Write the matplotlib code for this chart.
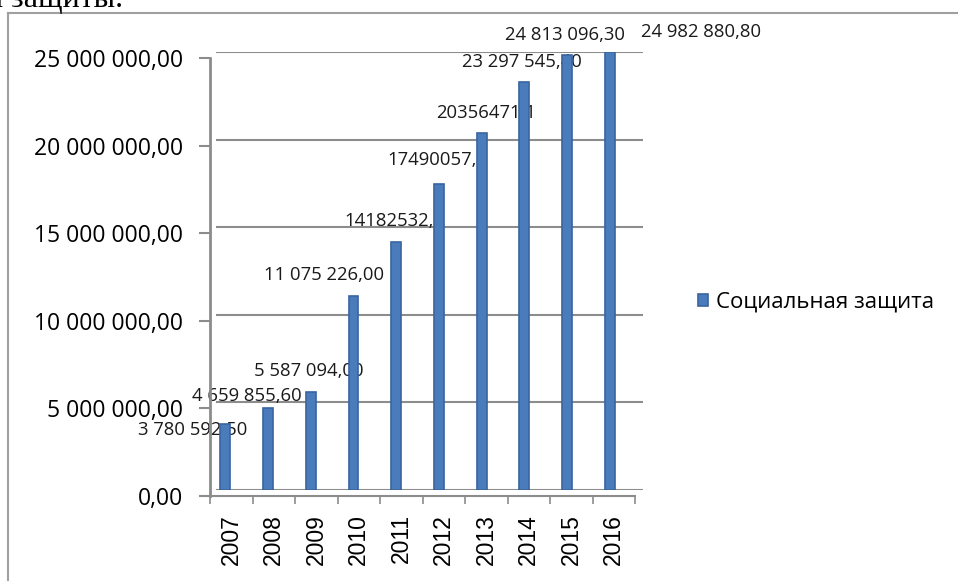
import numpy as np
import matplotlib
matplotlib.use('Agg')
import matplotlib.pyplot as plt

years = ['2007', '2008', '2009', '2010', '2011', '2012', '2013', '2014', '2015', '2016']
values = [3780592.50, 4659855.60, 5587094.00, 11075226.00, 14182532.20,
          17490057.40, 20356471.10, 23297545.40, 24813096.30, 24982880.80]
value_labels = ['3 780 592,50', '4 659 855,60', '5 587 094,00', '11 075 226,00', '14182532,2',
                '17490057,4', '20356471,1', '23 297 545,40', '24 813 096,30', '24 982 880,80']
series_name = 'Социальная защита'
y_ticks = [0, 5000000, 10000000, 15000000, 20000000, 25000000]

# where each label sits against its bar, px (left edge, centre height)
label_dx = [-87, -76, -57, -89, -52, -52, -45, -62, -62, 31]
label_dy = [6, -12, -21, -21, -21, -24, -20, -20, -20, -20]

W, H = 958, 581
fig = plt.figure(figsize=(W / 100, H / 100), dpi=100)

def box(l, t, r, b):
    return [l / W, (H - b) / H, (r - l) / W, (b - t) / H]

grey = '#8c8c8c'
bar_color = '#4a7cbc'

# back wall: gridlines and bars
back = fig.add_axes(box(216, 52, 643, 490))
back.set_xlim(-0.5, 9.5)
back.set_ylim(0, 25000000)
back.set_yticks(y_ticks)
back.grid(axis='y', color=grey, linewidth=1.5)
back.set_axisbelow(True)
back.tick_params(left=False, bottom=False, labelleft=False, labelbottom=False)
for s in back.spines.values():
    s.set_visible(False)
back.patch.set_alpha(0)

x = np.arange(len(years))
bars = back.bar(x - 0.28, values, width=0.23, color=bar_color, edgecolor='#3a64a0',
                linewidth=1.2, zorder=3, label=series_name)

for i, v in enumerate(values):
    back.annotate(value_labels[i], (x[i] - 0.28, v),
                  xytext=(label_dx[i] * 0.72, -label_dy[i] * 0.72), textcoords='offset points',
                  ha='left', va='center', fontsize=13.3, family='Open Sans', color='#1a1a1a',
                  zorder=2, annotation_clip=False)

# front: axis lines, ticks, labels
front = fig.add_axes(box(210, 58, 635, 496))
front.set_xlim(-0.5, 9.5)
front.set_ylim(0, 25000000)
front.patch.set_alpha(0)
front.set_yticks(y_ticks)
front.set_yticklabels([f'{v:,.2f}'.replace(',', ' ').replace('.', ',') for v in y_ticks],
                      family='Open Sans', fontsize=16.5)
front.set_xticks(np.arange(-0.5, 10, 1))
front.set_xticklabels([])
front.set_xticks(x, minor=True)
front.set_xticklabels(years, minor=True, rotation=90, family='Liberation Sans', fontsize=16.5)
front.tick_params(axis='x', which='minor', length=0, pad=13)
front.tick_params(axis='x', which='major', length=6, width=1.2, color=grey)
front.tick_params(axis='y', length=8, width=1.5, color=grey, pad=11.5)
for s in ['top', 'right']:
    front.spines[s].set_visible(False)
front.spines['left'].set_color(grey)
front.spines['left'].set_linewidth(2)
front.spines['bottom'].set_color(grey)
front.spines['bottom'].set_linewidth(1.5)

fig.legend(handles=[bars], labels=[series_name], loc='center left',
           bbox_to_anchor=(698 / W, 1 - 302 / H), frameon=False,
           prop={'family': 'Open Sans', 'size': 16},
           handlelength=0.45, handleheight=0.45, handletextpad=0.35,
           borderpad=0, borderaxespad=0)

# page frame and cut-off text above it
fig.add_artist(plt.Line2D([8 / W, 8 / W], [0, 1 - 13 / H], color='#a0a0a0', linewidth=1.5))
fig.add_artist(plt.Line2D([8 / W, 1], [1 - 13 / H, 1 - 13 / H], color='#a0a0a0', linewidth=1.5))
fig.text(-14 / W, 1 - 7 / H, 'й защиты.', family='Liberation Serif', fontsize=23,
         va='baseline', ha='left')

fig.savefig('out.png', dpi=100)
